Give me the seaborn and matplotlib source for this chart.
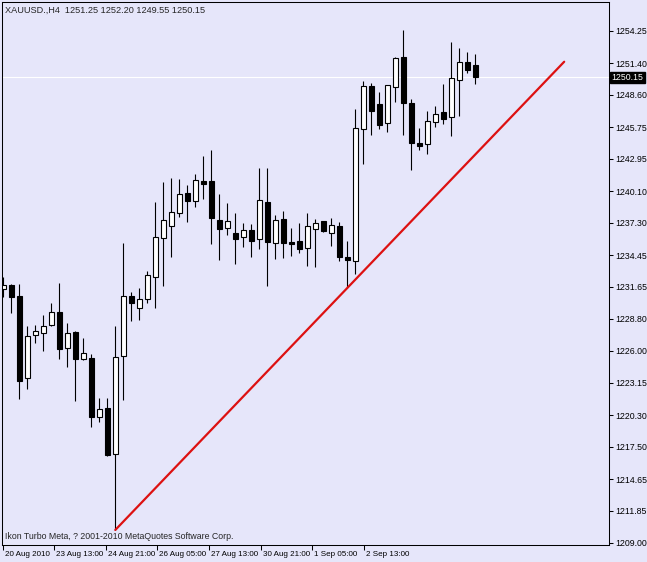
import numpy as np
import pandas as pd
import seaborn as sns
import matplotlib.pyplot as plt
from matplotlib.transforms import ScaledTranslation

# H4 candles (oldest first)
opens = [1231.45, 1231.80, 1230.83, 1223.58, 1227.38, 1227.56, 1228.27, 1229.42, 1226.23, 1227.65,
         1225.26, 1225.35, 1220.14, 1220.93, 1216.87, 1225.53, 1230.83, 1229.77, 1230.57, 1232.51,
         1235.96, 1237.02, 1238.17, 1239.93, 1239.23, 1240.99, 1240.99, 1237.55, 1236.84, 1236.40,
         1236.04, 1236.66, 1235.87, 1239.14, 1235.51, 1237.64, 1235.60, 1235.69, 1235.07, 1236.75,
         1237.46, 1236.40, 1237.02, 1234.28, 1233.92, 1245.59, 1249.39, 1247.80, 1246.12, 1249.30,
         1251.95, 1247.89, 1244.35, 1244.26, 1246.21, 1247.09, 1246.65, 1249.92, 1251.51, 1251.25]
highs = [1232.51, 1231.89, 1231.89, 1228.18, 1228.27, 1229.15, 1230.21, 1231.98, 1228.44, 1227.70,
         1227.12, 1225.70, 1221.82, 1221.82, 1228.18, 1235.51, 1231.18, 1231.54, 1233.04, 1239.14,
         1240.91, 1241.26, 1241.17, 1240.64, 1241.61, 1243.20, 1243.73, 1239.84, 1239.05, 1238.17,
         1237.28, 1237.19, 1242.14, 1242.14, 1237.99, 1238.34, 1236.84, 1237.28, 1238.17, 1237.64,
         1237.46, 1237.72, 1237.37, 1235.69, 1247.36, 1249.83, 1249.65, 1248.86, 1249.48, 1251.95,
         1254.34, 1248.24, 1245.68, 1247.18, 1247.62, 1249.57, 1253.28, 1252.75, 1252.39, 1252.20]
lows = [1230.74, 1229.33, 1221.73, 1222.61, 1226.68, 1225.97, 1228.20, 1225.26, 1224.55, 1221.55,
        1225.20, 1219.25, 1219.69, 1216.69, 1210.15, 1221.64, 1228.62, 1228.71, 1230.21, 1229.77,
        1231.71, 1234.28, 1237.81, 1237.37, 1238.70, 1239.40, 1235.43, 1234.01, 1236.22, 1233.66,
        1235.16, 1234.28, 1234.98, 1231.71, 1234.10, 1234.19, 1234.37, 1234.63, 1233.48, 1233.39,
        1236.50, 1235.25, 1233.92, 1231.54, 1232.77, 1242.50, 1245.06, 1245.59, 1245.32, 1247.98,
        1245.06, 1241.97, 1243.73, 1243.38, 1245.77, 1246.03, 1244.97, 1246.74, 1250.54, 1249.55]
closes = [1231.80, 1230.74, 1223.32, 1227.29, 1227.74, 1228.18, 1229.42, 1226.15, 1227.56, 1225.26,
          1225.79, 1220.14, 1220.84, 1216.78, 1225.44, 1230.83, 1230.21, 1230.57, 1232.69, 1236.04,
          1237.55, 1238.25, 1239.84, 1239.23, 1241.08, 1240.73, 1237.72, 1236.75, 1237.46, 1235.87,
          1236.66, 1235.69, 1239.31, 1235.60, 1237.55, 1235.51, 1235.43, 1234.98, 1237.02, 1237.28,
          1236.57, 1237.10, 1234.28, 1234.01, 1245.68, 1249.39, 1247.18, 1245.94, 1249.48, 1251.86,
          1247.89, 1244.35, 1244.09, 1246.30, 1246.92, 1246.47, 1250.10, 1251.51, 1250.80, 1250.15]

# red trend line (bar index, price)
trend_bars = [14, 70.1]
trend_prices = [1210.15, 1251.53]

price_ticks = [1254.25, 1251.40, 1248.60, 1245.75, 1242.95, 1240.10, 1237.30, 1234.45, 1231.65,
               1228.80, 1226.00, 1223.15, 1220.30, 1217.50, 1214.65, 1211.85, 1209.00]
date_ticks = [0, 6.38, 12.8, 19.22, 25.75, 32.2, 38.62, 45.05]
date_labels = ["20 Aug 2010", "23 Aug 13:00", "24 Aug 21:00", "26 Aug 05:00",
               "27 Aug 13:00", "30 Aug 21:00", "1 Sep 05:00", "2 Sep 13:00"]
last_price = 1250.15
header = "XAUUSD.,H4  1251.25 1252.20 1249.55 1250.15"
footer = "Ikon Turbo Meta, ? 2001-2010 MetaQuotes Software Corp."

bg = "#e6e6fa"
sns.set_theme(style="white", rc={"axes.facecolor": bg, "figure.facecolor": bg,
                                 "axes.edgecolor": "black", "axes.linewidth": 0.75})
plt.rcParams['font.family'] = ['Liberation Sans', 'DejaVu Sans']

df = pd.DataFrame({"bar": np.arange(len(opens)), "open": opens, "high": highs,
                   "low": lows, "close": closes})
df["up"] = df["close"] >= df["open"]
df["lo"] = df[["open", "close"]].min(axis=1)
df["hi"] = df[["open", "close"]].max(axis=1)

fig = plt.figure(figsize=(6.47, 5.62), dpi=100)
ax = fig.add_axes([2 / 647, 17 / 562, 607 / 647, 543 / 562])

ax.axhline(last_price, color="white", lw=0.8, zorder=0.5)

# wicks then bodies
ax.vlines(df["bar"], df["low"], df["high"], color="black", lw=0.8, zorder=1)
ax.bar(df["bar"], df["hi"] - df["lo"], bottom=df["lo"], width=0.6,
       color=np.where(df["up"], "white", "black"), edgecolor="black", linewidth=0.8, zorder=2)

sns.lineplot(x=trend_bars, y=trend_prices, color="#dd1111", lw=1.6, ax=ax, zorder=3)

ax.set_xlim(-0.16, 75.7)
ax.set_ylim(1208.82, 1256.81)

ax.yaxis.tick_right()
ax.set_yticks(price_ticks)
ax.set_yticklabels([f"{p:.2f}" for p in price_ticks])
ax.tick_params(axis="y", right=True, left=False, length=3, width=0.75, pad=1.5,
               labelsize=6.3, colors="black", direction="out")
ax.set_xticks(date_ticks)
ax.set_xticklabels(date_labels, ha="left")
ax.tick_params(axis="x", bottom=True, length=3.5, width=0.75, pad=1,
               labelsize=5.8, colors="black", direction="out")
# labels start just right of their tick, as in the terminal
shift = ScaledTranslation(2 / 100, 0, fig.dpi_scale_trans)
for lab in ax.get_xticklabels():
    lab.set_transform(lab.get_transform() + shift)
ax.set_xlabel("")
ax.set_ylabel("")

ax.annotate(f"{last_price:.2f}", xy=(1.004, last_price), xycoords=("axes fraction", "data"),
            ha="left", va="center", fontsize=6.3, color="white",
            bbox=dict(boxstyle="square,pad=0.15", fc="black", ec="black"))

ax.text(0.005, 0.993, header, transform=ax.transAxes, ha="left", va="top", fontsize=6.6)
ax.text(0.005, 0.008, footer, transform=ax.transAxes, ha="left", va="bottom", fontsize=6.3)

fig.savefig("out.png", dpi=100)
